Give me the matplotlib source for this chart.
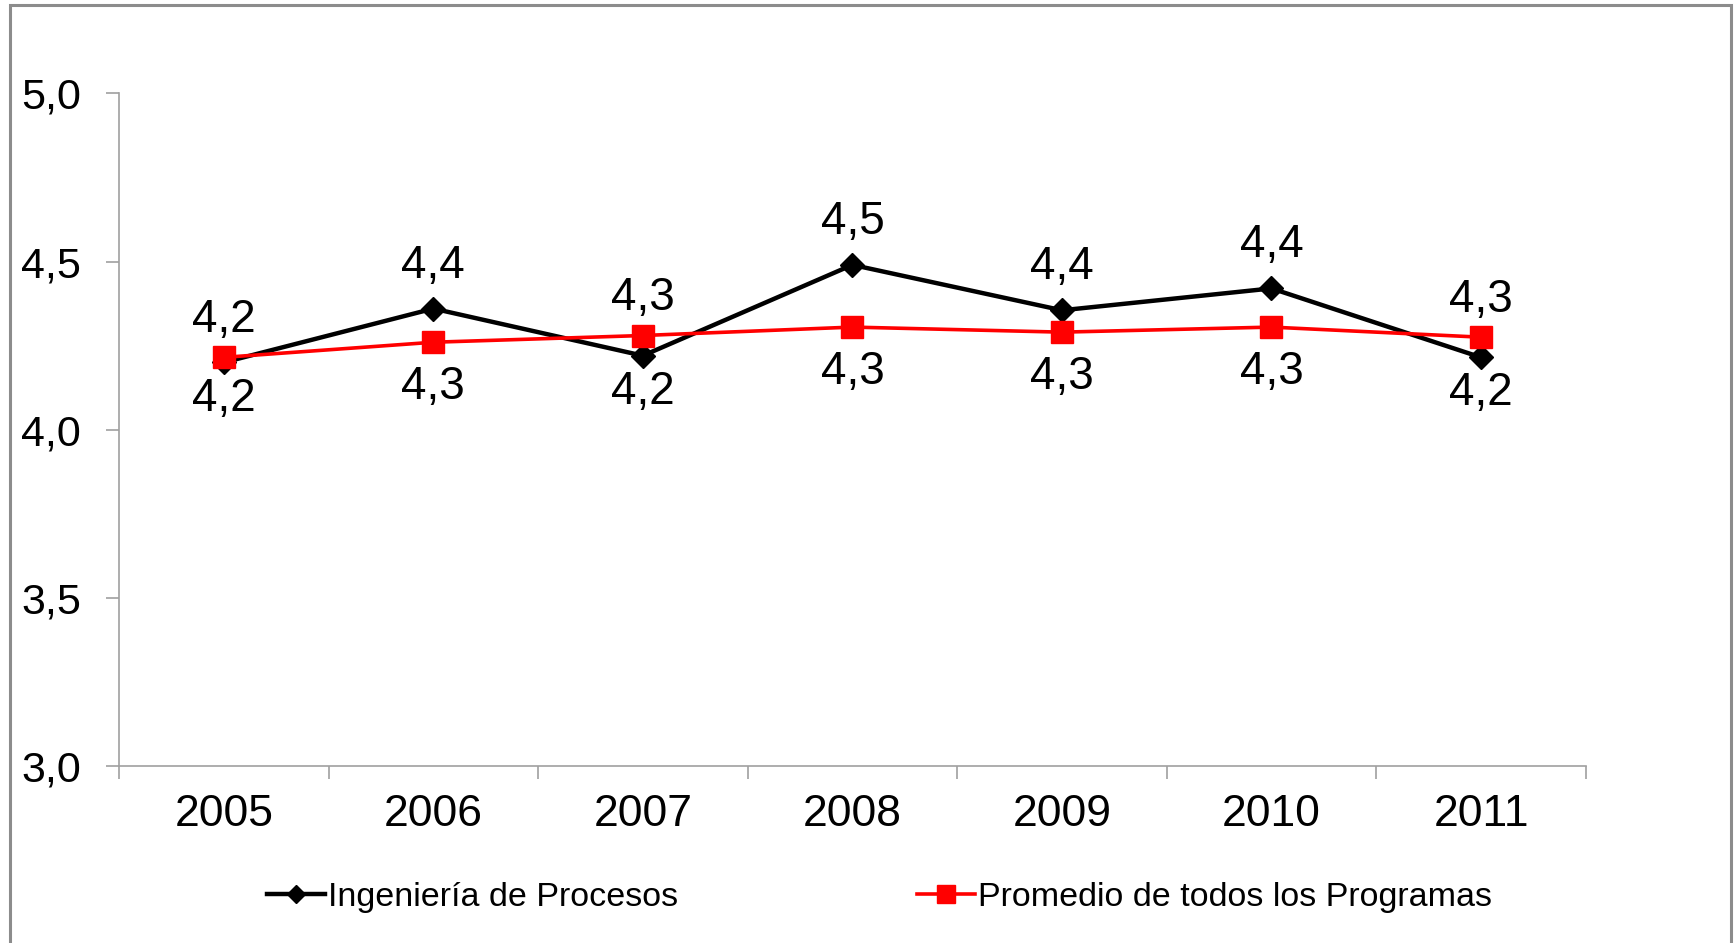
import matplotlib
matplotlib.use("Agg")
import matplotlib.pyplot as plt
from matplotlib.patches import Rectangle

# --- datos ---
anios = ["2005", "2006", "2007", "2008", "2009", "2010", "2011"]
ing_procesos = [4.20, 4.36, 4.22, 4.49, 4.355, 4.42, 4.215]
promedio = [4.215, 4.26, 4.28, 4.305, 4.29, 4.305, 4.275]
yticks = [3.0, 3.5, 4.0, 4.5, 5.0]

nombre_1 = "Ingeniería de Procesos"
nombre_2 = "Promedio de todos los Programas"

plt.rcParams['font.family'] = ['Liberation Sans', 'DejaVu Sans']

fig = plt.figure(figsize=(17.35, 9.43), dpi=100)
ax = fig.add_axes([0.0686, 0.1877, 0.8454, 0.7133])

# marco gris exterior
fig.patches.append(Rectangle((0.0055, -0.01), 0.992, 1.005, transform=fig.transFigure,
                             fill=False, edgecolor="#8c8c8c", linewidth=2.2))

x = list(range(len(anios)))
ax.plot(x, ing_procesos, color="black", lw=3.2, marker="D", markersize=12,
        label=nombre_1, zorder=3)
ax.plot(x, promedio, color="#ff0000", lw=2.6, marker="s", markersize=16,
        label=nombre_2, zorder=4)

# etiquetas de datos: la serie más alta arriba, la otra abajo
# desplazamientos (puntos) por serie: (arriba, abajo)
despl = {"negro": (31, -26), "rojo": (27, -32)}
for i in x:
    a, b = ing_procesos[i], promedio[i]
    for v, arriba, serie in ((a, a >= b, "negro"), (b, b > a, "rojo")):
        off = despl[serie][0] if arriba else despl[serie][1]
        ax.annotate(f"{v:.1f}".replace(".", ","), (i, v), xytext=(0, off),
                    textcoords="offset points", ha="center", va="center",
                    fontsize=33, color="black")

ax.set_xlim(-0.5, len(anios) - 0.5)
ax.set_ylim(3.0, 5.0)
ax.set_yticks(yticks)
ax.set_yticklabels([f"{t:.1f}".replace(".", ",") for t in yticks])
ax.set_xticks([i - 0.5 for i in range(len(anios) + 1)])
ax.set_xticklabels([])
ax.set_xticks(x, minor=True)
ax.set_xticklabels(anios, minor=True)

for s in ["top", "right"]:
    ax.spines[s].set_visible(False)
for s in ["left", "bottom"]:
    ax.spines[s].set_color("#a0a0a0")
    ax.spines[s].set_linewidth(1.2)

ax.tick_params(axis="y", direction="out", length=9.5, width=1.2, color="#a0a0a0",
               labelsize=31, pad=18)
ax.tick_params(axis="x", which="major", direction="out", length=9, width=1.2,
               color="#a0a0a0")
ax.tick_params(axis="x", which="minor", length=0, labelsize=32, pad=20)

fig.legend(loc="center", bbox_to_anchor=(0.507, 0.048), ncol=2, frameon=False,
           fontsize=24.5, handlelength=1.7, handletextpad=0.1, columnspacing=7.0,
           markerscale=0.8)

fig.savefig("out.png", dpi=100)
